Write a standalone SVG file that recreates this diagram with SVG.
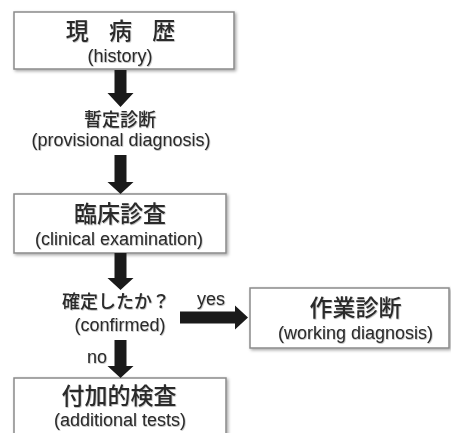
<svg xmlns="http://www.w3.org/2000/svg" width="451" height="433" viewBox="0 0 451 433">
<defs>
<filter id="sh" x="-10%" y="-10%" width="125%" height="130%">
<feDropShadow dx="1.5" dy="1.5" stdDeviation="1.5" flood-color="#000" flood-opacity="0.35"/>
</filter>
<filter id="tsh" x="-5%" y="-20%" width="110%" height="150%">
<feDropShadow dx="0.6" dy="0.8" stdDeviation="0.6" flood-color="#000" flood-opacity="0.3"/>
</filter>
</defs>
<style>
.box{fill:#fff;stroke:#8a8a8a;stroke-width:1.5;filter:url(#sh)}
.t{font-family:"Noto Sans CJK JP","Liberation Sans",sans-serif;fill:#2a2a2a;text-anchor:middle;filter:url(#tsh)}
.big{font-size:23px;font-weight:500}
.mid{font-size:18px;font-weight:500}
.en{font-family:"Liberation Sans",Arial,sans-serif;font-size:18px;fill:#2a2a2a;text-anchor:middle;filter:url(#tsh)}
.ar{fill:#1a1a1a}
</style>
<rect width="451" height="433" fill="#fff"/>
<g id="n-history">
<rect class="box" x="14" y="12" width="220" height="57"/>
<text class="t big" x="120.5" y="38.5" word-spacing="15">現 病 歴</text>
<text class="en" x="120" y="61.5">(history)</text>
</g>
<g id="n-provisional">
<text class="t mid" x="120" y="125.5" font-size="19">暫定診断</text>
<text class="en" x="121" y="146">(provisional diagnosis)</text>
</g>
<g id="n-clinical">
<rect class="box" x="14" y="194" width="212" height="59"/>
<text class="t big" x="120" y="221.5">臨床診査</text>
<text class="en" x="119" y="245">(clinical examination)</text>
</g>
<g id="n-confirmed">
<text class="t mid" x="116" y="308">確定したか？</text>
<text class="en" x="120" y="331">(confirmed)</text>
</g>
<g id="n-working">
<rect class="box" x="250" y="288" width="199" height="60"/>
<text class="t big" x="355.5" y="316">作業診断</text>
<text class="en" x="355.5" y="338.5">(working diagnosis)</text>
</g>
<g id="n-additional">
<rect class="box" x="14" y="378" width="212" height="60"/>
<text class="t big" x="119" y="404" font-size="22">付加的検査</text>
<text class="en" x="120" y="426">(additional tests)</text>
</g>
<g id="connectors">
<polygon class="ar" points="114.5,70 126.5,70 126.5,93 133.5,93 120.5,107 107.5,93 114.5,93"/>
<polygon class="ar" points="114.5,155 126.5,155 126.5,182 133.5,182 120.5,194 107.5,182 114.5,182"/>
<polygon class="ar" points="114.5,253 126.5,253 126.5,278 133.5,278 120.5,290 107.5,278 114.5,278"/>
<polygon class="ar" points="114.5,340 126.5,340 126.5,366 133.5,366 120.5,378 107.5,366 114.5,366"/>
<polygon class="ar" points="180,311.5 235,311.5 235,305.5 248,317.5 235,329.5 235,323.5 180,323.5"/>
<text class="en" x="211" y="305">yes</text>
<text class="en" x="97" y="363">no</text>
</g>
</svg>
